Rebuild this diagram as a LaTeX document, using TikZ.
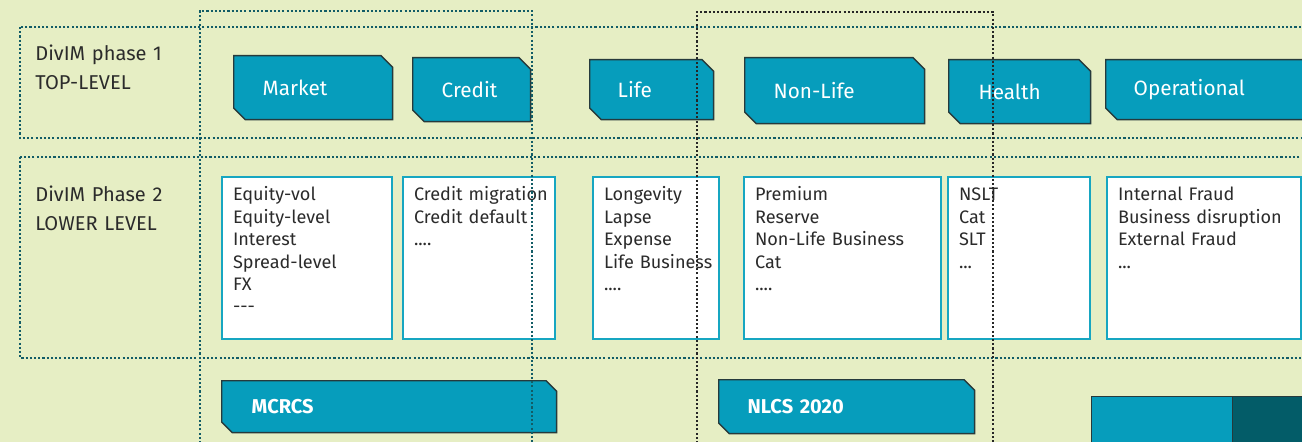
\documentclass[tikz,border=0pt]{standalone}
\usepackage{fontspec}
\setmainfont{Fira Sans}
\usetikzlibrary{shapes.misc}

\definecolor{paper}{HTML}{E6EEC4}
\definecolor{tabfill}{HTML}{069DBC}
\definecolor{tabline}{HTML}{263A3C}
\definecolor{listframe}{HTML}{17A6C1}
\definecolor{dotteal}{HTML}{125C66}
\definecolor{deepteal}{HTML}{035C68}
\definecolor{ink}{HTML}{2B2B2B}

\begin{document}
\begin{tikzpicture}[x=0.02cm, y=-0.02cm]
    % Styles
    \tikzstyle{tab} = [chamfered rectangle, chamfered rectangle corners={north east,south west}, chamfered rectangle xsep=0.11cm, draw=tabline, line width=0.8pt, fill=tabfill, text=white, anchor=north west, inner xsep=0pt, align=left, font=\fontsize{11.8pt}{14pt}\selectfont]
    \tikzstyle{plate} = [tab, chamfered rectangle xsep=0.09cm, font=\fontsize{11.4pt}{14pt}\selectfont\bfseries]
    \tikzstyle{riskbox} = [draw=listframe, line width=1.2pt, fill=white, text=ink, anchor=north west, inner xsep=0.22cm, inner ysep=0pt, text height=0.47cm, text depth=2.77cm, align=left, font=\fontsize{10.3pt}{12.8pt}\selectfont]
    \tikzstyle{phase} = [text=ink, anchor=north west, inner sep=0pt, text width=3.2cm, text height=0.3cm, text depth=0.7cm, align=left, font=\fontsize{11.4pt}{16.5pt}\selectfont]
    \tikzstyle{zone} = [draw=dotteal, line width=1.6pt, dash pattern=on 1.2pt off 1.2pt]
    \tikzstyle{column} = [zone, draw=black!85]

    % Canvas
    \fill[paper] (0,0) rectangle (1302,442);
    \useasboundingbox (0,0) rectangle (1302,442);
    \clip (0,0) rectangle (1302,442);

    % Phase bands
    \draw[zone] (20,27) rectangle (1340,138);
    \draw[zone] (20,157) rectangle (1340,358);
    \node[phase] (phaseone) at (35,45) {DivIM phase 1\\TOP-LEVEL};
    \node[phase] (phasetwo) at (35,186) {DivIM Phase 2\\LOWER LEVEL};

    % Top-level modules
    \node[tab, minimum width=3.18cm, minimum height=1.28cm, text width=2.02cm] (market) at (233,55) {Market};
    \node[tab, minimum width=2.36cm, minimum height=1.28cm, text width=1.2cm] (credit) at (412,57) {Credit};
    \node[tab, minimum width=2.48cm, minimum height=1.2cm, text width=1.36cm] (life) at (589,59) {Life};
    \node[tab, minimum width=3.6cm, minimum height=1.32cm, text width=2.44cm] (nonlife) at (744,57) {Non-Life};
    \node[tab, minimum width=2.84cm, minimum height=1.28cm, text width=1.64cm] (health) at (948,59) {Health};
    \node[tab, minimum width=4.4cm, minimum height=1.2cm, text width=3.28cm] (operational) at (1105,59) {Operational};

    % Lower-level risks
    \node[riskbox, text width=2.96cm] (marketrisks) at (221,176) {Equity-vol\\Equity-level\\Interest\\Spread-level\\FX\\-{}-{}-};
    \node[riskbox, text width=2.6cm] (creditrisks) at (402,176) {\mbox{Credit migration}\\\mbox{Credit default}\\....};
    \node[riskbox, text width=2.08cm] (liferisks) at (592,176) {Longevity\\Lapse\\Expense\\\mbox{Life Business}\\....};
    \node[riskbox, text width=3.5cm] (nonliferisks) at (743,176) {Premium\\Reserve\\Non-Life Business\\Cat\\....};
    \node[riskbox, text width=2.4cm] (healthrisks) at (947,176) {NSLT\\Cat\\SLT\\...};
    \node[riskbox, text width=3.44cm] (oprisks) at (1106,176) {Internal Fraud\\Business disruption\\External Fraud\\...};

    % Standards
    \node[plate, minimum width=6.7cm, minimum height=1.04cm, text width=5.5cm] (mcrcs) at (221,380) {MCRCS};
    \node[plate, minimum width=5.12cm, minimum height=1.08cm, text width=3.96cm] (nlcs) at (718,379) {NLCS 2020};
    \node[draw=tabline, line width=0.8pt, fill=tabfill, anchor=north west, minimum width=2.82cm, minimum height=1.2cm] (lightblock) at (1091,396) {};
    \node[draw=tabline, line width=0.8pt, fill=deepteal, anchor=north west, minimum width=1.6cm, minimum height=1.2cm] (darkblock) at (1232,396) {};

    % Scope columns
    \draw[zone] (200,460) -- (200,11) -- (532,11) -- (532,460);
    \draw[column] (697,460) -- (697,12) -- (993,12) -- (993,460);
\end{tikzpicture}
\end{document}
